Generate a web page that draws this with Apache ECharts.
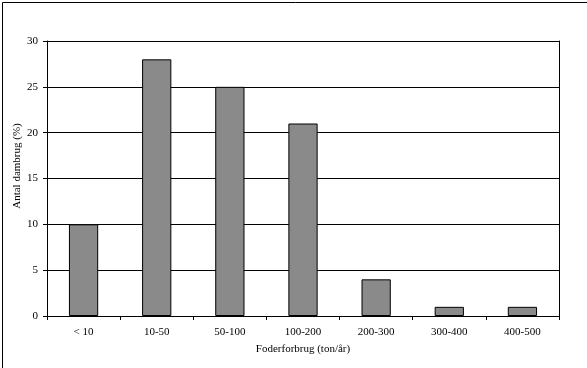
<!DOCTYPE html>
<html>
<head>
<meta charset="utf-8">
<script src="https://cdn.jsdelivr.net/npm/echarts@6/dist/echarts.min.js"></script>
<style>
html,body{margin:0;padding:0;background:#fff;}
#chart{width:587px;height:368px;}
</style>
</head>
<body>
<div id="chart"></div>
<script>
var categories = ['< 10', '10-50', '50-100', '100-200', '200-300', '300-400', '400-500'];
var values = [10, 28, 25, 21, 4, 1, 1];
var yTicks = [0, 5, 10, 15, 20, 25, 30];
var xTitle = 'Foderforbrug (ton/år)';
var yTitle = 'Antal dambrug (%)';

var font = 'Liberation Serif, Times New Roman, serif';
var chart = echarts.init(document.getElementById('chart'), null, {renderer: 'canvas'});
chart.setOption({
  animation: false,
  backgroundColor: '#ffffff',
  grid: {left: 47, right: 28, top: 41, bottom: 52, containLabel: false},
  graphic: [
    {type: 'rect', left: 0, top: 0, z: 100,
     shape: {x: 0.5, y: 0.5, width: 586, height: 367},
     style: {fill: 'none', stroke: '#000', lineWidth: 1}},
    {type: 'text', x: 17, y: 166, rotation: Math.PI / 2, z: 100,
     style: {text: yTitle, fill: '#000', font: '11px ' + font, align: 'center', verticalAlign: 'middle'}}
  ],
  xAxis: {
    type: 'category',
    data: categories,
    boundaryGap: true,
    name: xTitle,
    nameLocation: 'middle',
    nameGap: 28,
    nameTextStyle: {color: '#000', fontFamily: font, fontSize: 11},
    axisLine: {show: true, lineStyle: {color: '#000', width: 1}},
    axisTick: {show: true, length: 4, inside: false, lineStyle: {color: '#000'}},
    axisLabel: {color: '#000', fontFamily: font, fontSize: 11, margin: 11, interval: 0},
    splitLine: {show: false}
  },
  yAxis: [{
    type: 'value',
    min: yTicks[0],
    max: yTicks[yTicks.length - 1],
    interval: 5,
    axisLine: {show: true, lineStyle: {color: '#000', width: 1}},
    axisTick: {show: true, length: 4, lineStyle: {color: '#000'}},
    axisLabel: {color: '#000', fontFamily: font, fontSize: 11, margin: 9},
    splitLine: {show: true, lineStyle: {color: '#000', width: 1}}
  }, {
    type: 'value',
    position: 'right',
    min: yTicks[0],
    max: yTicks[yTicks.length - 1],
    interval: 5,
    axisLine: {show: true, lineStyle: {color: '#000', width: 1}},
    axisTick: {show: false},
    axisLabel: {show: false},
    splitLine: {show: false}
  }],
  series: [{
    type: 'bar',
    data: values,
    barWidth: '40%',
    itemStyle: {color: '#8a8a8a', borderColor: '#000', borderWidth: 1}
  }]
});
</script>
</body>
</html>
